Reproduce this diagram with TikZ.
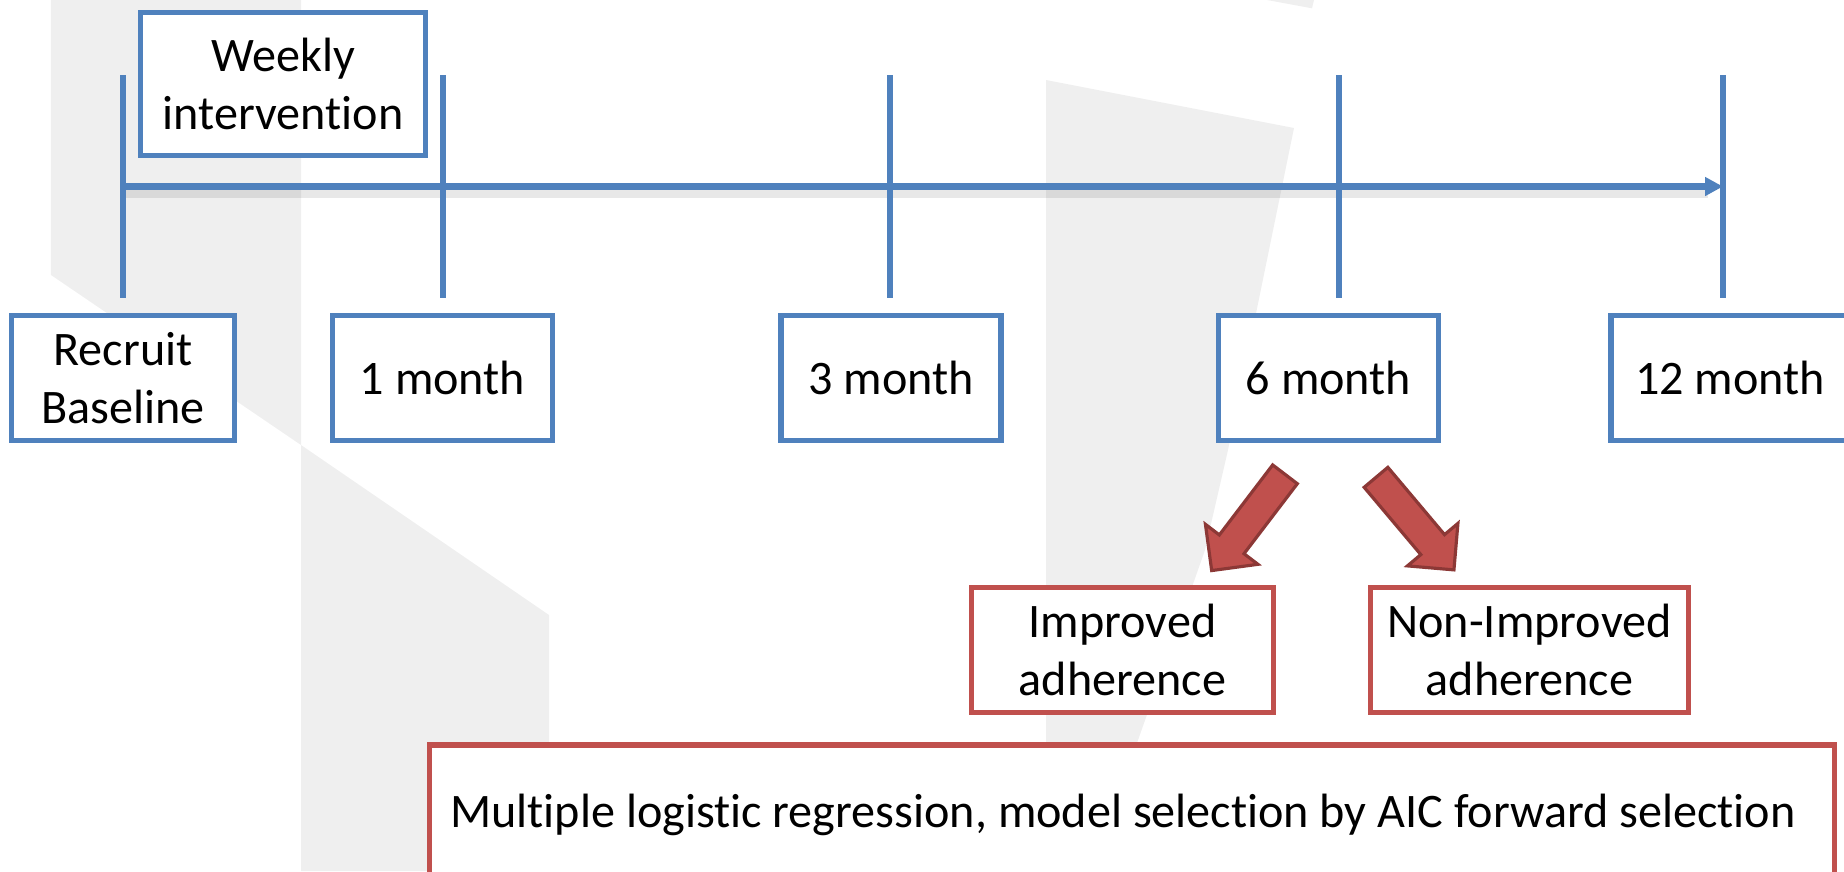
\documentclass[tikz,border=0pt]{standalone}
\usepackage{fontspec}
\setmainfont{Carlito}[Ligatures=NoCommon]
\usetikzlibrary{arrows.meta,calc}
\definecolor{TimeBlue}{RGB}{79,129,189}
\definecolor{GroupRed}{RGB}{192,80,77}
\definecolor{ArrowEdge}{RGB}{140,56,54}
\definecolor{WatermarkGray}{RGB}{239,239,239}
\tikzset{
  bluebox/.style={draw=TimeBlue,line width=1.6pt,fill=white,inner sep=0pt,
    minimum width=2.20cm,minimum height=1.25cm,align=center},
  redbox/.style={draw=GroupRed,line width=1.6pt,fill=white,inner sep=0pt,
    minimum height=1.25cm,align=center},
  tickline/.style={draw=TimeBlue,line width=1.6pt},
  axisline/.style={draw=TimeBlue,line width=1.8pt,
    -{Triangle[length=1.8mm,width=1.8mm]}},
  axisshadow/.style={draw=black,opacity=.09,line width=3pt},
  watermark/.style={fill=WatermarkGray,draw=none},
  blockarrow/.pic={
    \draw[fill=GroupRed,draw=ArrowEdge,line width=0.9pt]
      (0,-0.155) -- (0.88,-0.155) -- (0.88,-0.33) -- (1.21,0)
      -- (0.88,0.33) -- (0.88,0.155) -- (0,0.155) -- cycle;
  },
}

\begin{document}
\begin{tikzpicture}[every node/.style={font=\fontsize{13.7}{16.4}\selectfont}]
\useasboundingbox (0,0) rectangle (18.44,-8.71);

% watermark shapes behind the diagram
\fill[watermark] (0.51,0) -- (3.01,0) -- (3.01,-4.45) -- (0.51,-2.75) -- cycle
  (3.01,-4.45) -- (5.49,-6.15) -- (5.49,-8.71) -- (3.01,-8.71) -- cycle;
\fill[watermark] (10.46,-0.80) -- (12.94,-1.28) -- (12.28,-4.50) -- (12.05,-5.50)
  -- (11.37,-7.43) -- (11.05,-8.71) -- (10.46,-8.71) -- cycle;
\fill[watermark] (12.67,0) -- (13.12,-0.083) -- (13.14,0) -- cycle;

% time points on the axis
\coordinate (t0) at (1.23,-1.865);
\coordinate (t1) at (4.43,-1.865);
\coordinate (t2) at (8.90,-1.865);
\coordinate (t3) at (13.39,-1.865);
\coordinate (t4) at (17.23,-1.865);

\draw[axisshadow] ([yshift=-0.06cm]t0) -- ([yshift=-0.06cm,xshift=-0.15cm]t4);
\draw[axisline] (t0) -- (t4);
\foreach \t in {t0,t1,t2,t3,t4}
  \draw[tickline] ([yshift=1.115cm]\t) -- ([yshift=-1.115cm]\t);

\node[bluebox,minimum width=2.85cm,minimum height=1.43cm] (weekly) at (2.83,-0.84) {Weekly\\intervention};

\node[bluebox,minimum width=2.23cm] (recruit) at (1.23,-3.78) {Recruit\\Baseline};
\node[bluebox] (one) at (4.425,-3.78) {1 month};
\node[bluebox] (three) at (8.91,-3.78) {3 month};
\node[bluebox] (six) at (13.285,-3.78) {6 month};
\node[bluebox,minimum width=2.38cm] (twelve) at (17.30,-3.78) {12 month};

\node[redbox,minimum width=3.02cm] (improved) at (11.225,-6.50) {Improved\\adherence};
\node[redbox,minimum width=3.18cm] (nonimp) at (15.295,-6.50) {Non-Improved\\adherence};
\node[redbox,minimum width=14.05cm,minimum height=1.40cm] (multi) at (11.32,-8.15)
  {\hspace*{-0.18cm}Multiple logistic regression, model selection by AIC forward selection};

\pic[rotate=232.7] at ($(six.south)+(-0.435,-0.31)$) {blockarrow};
\pic[rotate=-49.9] at ($(six.south)+(0.475,-0.34)$) {blockarrow};
\end{tikzpicture}
\end{document}
